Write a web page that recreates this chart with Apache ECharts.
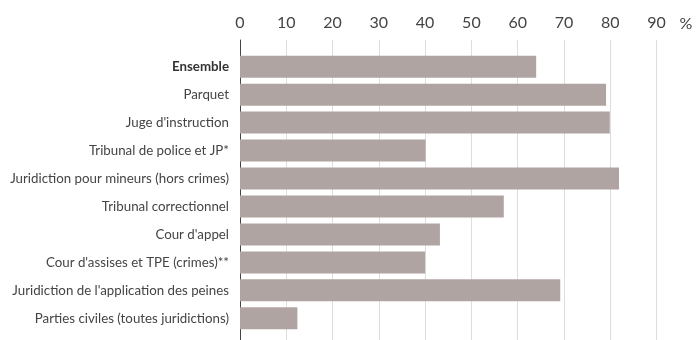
<!DOCTYPE html>
<html>
<head>
<meta charset="utf-8">
<script src="https://cdn.jsdelivr.net/npm/echarts@6/dist/echarts.min.js"></script>
<style>
  html, body { margin: 0; padding: 0; background: #fff; }
  #chart { width: 697px; height: 340px; }
</style>
</head>
<body>
<div id="chart"></div>
<script>
// catégories (de haut en bas)
const categories = [
  'Ensemble',
  'Parquet',
  "Juge d'instruction",
  'Tribunal de police et JP*',
  'Juridiction pour mineurs (hors crimes)',
  'Tribunal correctionnel',
  "Cour d'appel",
  "Cour d'assises et TPE (crimes)**",
  "Juridiction de l'application des peines",
  'Parties civiles (toutes juridictions)'
];
// valeurs en %
const values = [64, 79.1, 79.9, 40.1, 81.9, 57, 43.2, 40, 69.2, 12.4];
// graduations de l'axe
const tickMin = 0;
const tickMax = 90;
const tickStep = 10;

const font = 'Lato, "Open Sans", sans-serif';
const chart = echarts.init(document.getElementById('chart'));

chart.setOption({
  animation: false,
  grid: [
    // grille des barres
    { left: 240, right: 40.5, top: 52.7, height: 279.6 },
    // grille des lignes de repère et de l'axe
    { left: 240, right: 40.5, top: 40, bottom: 0 }
  ],
  xAxis: [
    {
      gridIndex: 0, type: 'value', min: tickMin, max: tickMax, interval: tickStep,
      show: false
    },
    {
      gridIndex: 1, type: 'value', position: 'top',
      min: tickMin, max: tickMax, interval: tickStep,
      name: '%', nameLocation: 'end', nameGap: 23,
      nameTextStyle: { color: '#444', fontSize: 16, fontFamily: font, verticalAlign: 'bottom', padding: [0, 0, 8, 0] },
      axisLine: { show: false, onZero: false },
      axisTick: { show: false },
      axisLabel: { color: '#444', fontSize: 16, fontFamily: font, margin: 9 },
      splitLine: { show: true, lineStyle: { color: '#dedede', width: 1 } }
    }
  ],
  yAxis: [
    {
      gridIndex: 0, type: 'category', data: categories, inverse: true,
      axisLine: { show: false },
      axisTick: { show: false },
      axisLabel: {
        color: '#444', fontSize: 13.3, fontFamily: font, margin: 11,
        formatter: v => v === 'Ensemble' ? '{b|' + v + '}' : v,
        rich: { b: { fontWeight: 'bold', color: '#333', fontSize: 13.3, fontFamily: font } }
      }
    },
    {
      gridIndex: 1, type: 'value',
      axisLine: { show: true, onZero: false, lineStyle: { color: '#444', width: 1 } },
      axisTick: { show: false },
      axisLabel: { show: false },
      splitLine: { show: false }
    }
  ],
  series: [
    {
      type: 'bar',
      xAxisIndex: 0, yAxisIndex: 0,
      data: values,
      barWidth: 22,
      itemStyle: { color: '#b0a4a3' },
      z: 3
    }
  ]
});
</script>
</body>
</html>
